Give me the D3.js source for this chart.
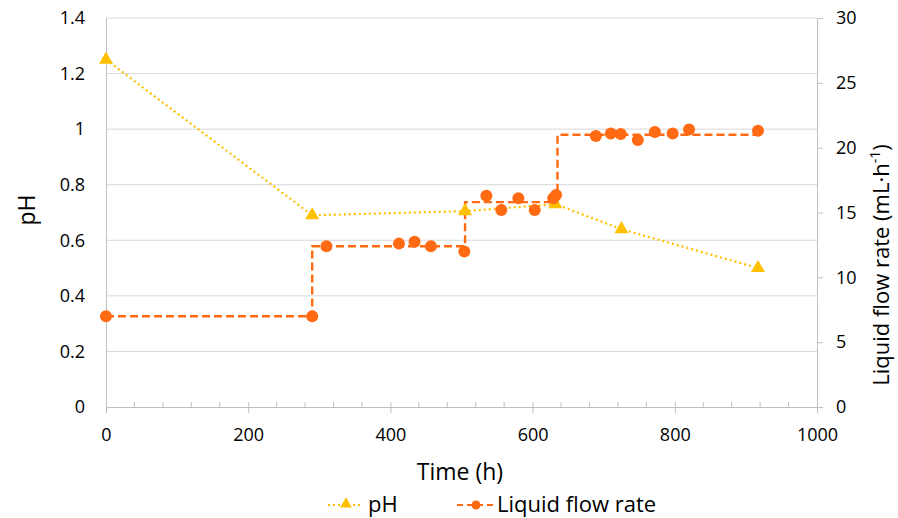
<!DOCTYPE html>
<html>
<head>
<meta charset="utf-8">
<script src="https://cdn.jsdelivr.net/npm/d3@7"></script>
<style>
  body { margin: 0; background: #fff; }
  text { font-family: "Open Sans", Lato, sans-serif; fill: #000; }
</style>
</head>
<body>
<div id="chart"></div>
<script>
// pH readings (left axis)
var phTime = [0, 290, 505, 632, 725, 917];
var phValue = [1.25, 0.69, 0.705, 0.73, 0.64, 0.50];

// measured liquid flow rate (right axis)
var flowTime = [0, 290, 310, 412, 434, 457, 504, 535, 556, 580, 603, 629, 633,
                689, 710, 724, 748, 772, 797, 820, 917];
var flowValue = [7.0, 7.0, 12.4, 12.6, 12.75, 12.4, 12.0, 16.3, 15.2, 16.1, 15.2, 16.1, 16.35,
                 20.9, 21.1, 21.05, 20.6, 21.2, 21.1, 21.4, 21.3];

// set flow rate steps
var stepTime = [0, 290, 505, 635, 917];
var stepValue = [7.0, 12.4, 15.8, 21.0, 21.0];

var xTicks = [0, 200, 400, 600, 800, 1000];
var phTicks = [0, 0.2, 0.4, 0.6, 0.8, 1, 1.2, 1.4];
var flowTicks = [0, 5, 10, 15, 20, 25, 30];

var phColour = "#ffc000";
var flowColour = "#ff6a13";

var width = 898, height = 518;
var margin = {top: 18, right: 81, bottom: 111, left: 106};

var svg = d3.select("#chart")
    .append("svg")
    .attr("width", width)
    .attr("height", height);

var x = d3.scaleLinear().domain([0, 1000]).range([margin.left, width - margin.right]);
var yPh = d3.scaleLinear().domain([0, 1.4]).range([height - margin.bottom, margin.top]);
var yFlow = d3.scaleLinear().domain([0, 30]).range([height - margin.bottom, margin.top]);

// gridlines
svg.append("g")
    .selectAll("line")
    .data(phTicks.slice(1))
    .enter()
    .append("line")
    .attr("x1", x(0))
    .attr("x2", x(1000))
    .attr("y1", function (d) { return yPh(d); })
    .attr("y2", function (d) { return yPh(d); })
    .style("stroke", "#d9d9d9")
    .style("stroke-width", 1);

// left axis
var leftAxis = svg.append("g")
    .attr("transform", "translate(" + x(0) + ",0)")
    .call(d3.axisLeft(yPh).tickValues(phTicks).tickSize(0).tickPadding(21)
        .tickFormat(function (d) { return String(+d.toFixed(1)); }));
leftAxis.select(".domain").style("stroke", "#bfbfbf");
leftAxis.selectAll("text").style("font-size", "18px");

// right axis
var rightAxis = svg.append("g")
    .attr("transform", "translate(" + x(1000) + ",0)")
    .call(d3.axisRight(yFlow).tickValues(flowTicks).tickSize(6).tickPadding(13).tickSizeOuter(0));
rightAxis.select(".domain").style("stroke", "#bfbfbf");
rightAxis.selectAll("line").style("stroke", "#bfbfbf");
rightAxis.selectAll("text").style("font-size", "18px");

// bottom axis with minor ticks
var minorTicks = d3.range(0, 1001, 40).filter(function (d) { return d % 200 !== 0; });
svg.append("g")
    .selectAll("line")
    .data(minorTicks)
    .enter()
    .append("line")
    .attr("x1", function (d) { return x(d); })
    .attr("x2", function (d) { return x(d); })
    .attr("y1", yPh(0) - 5)
    .attr("y2", yPh(0))
    .style("stroke", "#bfbfbf");

var bottomAxis = svg.append("g")
    .attr("transform", "translate(0," + yPh(0) + ")")
    .call(d3.axisBottom(x).tickValues(xTicks).tickSize(6).tickPadding(15).tickSizeOuter(0)
        .tickFormat(d3.format("d")));
bottomAxis.select(".domain").style("stroke", "#bfbfbf");
bottomAxis.selectAll(".tick line").attr("y1", -5).style("stroke", "#bfbfbf");
bottomAxis.selectAll("text").style("font-size", "18px");

// axis titles
svg.append("text")
    .attr("x", 460)
    .attr("y", 480)
    .attr("text-anchor", "middle")
    .style("font-size", "23px")
    .text("Time (h)");

svg.append("text")
    .attr("transform", "translate(35,210) rotate(-90)")
    .attr("text-anchor", "middle")
    .style("font-size", "23px")
    .text("pH");

var rightTitle = svg.append("text")
    .attr("transform", "translate(889,265) rotate(-90)")
    .attr("text-anchor", "middle")
    .style("font-size", "22px");
rightTitle.append("tspan").text("Liquid flow rate (mL\u00b7h");
rightTitle.append("tspan").attr("dy", "-9").style("font-size", "14px").text("-1");
rightTitle.append("tspan").attr("dy", "9").text(")");

// flow step line
var stepData = stepTime.map(function (t, i) { return {t: t, v: stepValue[i]}; });
svg.append("path")
    .datum(stepData)
    .attr("d", d3.line()
        .x(function (d) { return x(d.t); })
        .y(function (d) { return yFlow(d.v); })
        .curve(d3.curveStepAfter))
    .style("fill", "none")
    .style("stroke", flowColour)
    .style("stroke-width", 2.4)
    .style("stroke-dasharray", "8,4");

// pH dotted line
var phData = phTime.map(function (t, i) { return {t: t, v: phValue[i]}; });
svg.append("path")
    .datum(phData)
    .attr("d", d3.line()
        .x(function (d) { return x(d.t); })
        .y(function (d) { return yPh(d.v); }))
    .style("fill", "none")
    .style("stroke", phColour)
    .style("stroke-width", 2.2)
    .style("stroke-dasharray", "2,3");

var triangle = d3.symbol().type(d3.symbolTriangle).size(85);

svg.append("g")
    .selectAll("path")
    .data(phData)
    .enter()
    .append("path")
    .attr("d", triangle)
    .attr("transform", function (d) { return "translate(" + x(d.t) + "," + yPh(d.v) + ")"; })
    .style("fill", phColour);

// flow points
var flowData = flowTime.map(function (t, i) { return {t: t, v: flowValue[i]}; });
svg.append("g")
    .selectAll("circle")
    .data(flowData)
    .enter()
    .append("circle")
    .attr("cx", function (d) { return x(d.t); })
    .attr("cy", function (d) { return yFlow(d.v); })
    .attr("r", 6)
    .style("fill", flowColour);

// legend
var legend = svg.append("g");
legend.append("line")
    .attr("x1", 328).attr("x2", 363).attr("y1", 505).attr("y2", 505)
    .style("stroke", phColour).style("stroke-width", 2.2).style("stroke-dasharray", "2,3");
legend.append("path")
    .attr("d", d3.symbol().type(d3.symbolTriangle).size(60))
    .attr("transform", "translate(346,504)")
    .style("fill", phColour);
legend.append("text")
    .attr("x", 368).attr("y", 512)
    .style("font-size", "22px")
    .text("pH");

legend.append("line")
    .attr("x1", 457).attr("x2", 495).attr("y1", 505).attr("y2", 505)
    .style("stroke", flowColour).style("stroke-width", 2.2).style("stroke-dasharray", "6,4");
legend.append("circle")
    .attr("cx", 476).attr("cy", 505).attr("r", 4.5)
    .style("fill", flowColour);
legend.append("text")
    .attr("x", 497).attr("y", 512)
    .style("font-size", "22px")
    .text("Liquid flow rate");
</script>
</body>
</html>
